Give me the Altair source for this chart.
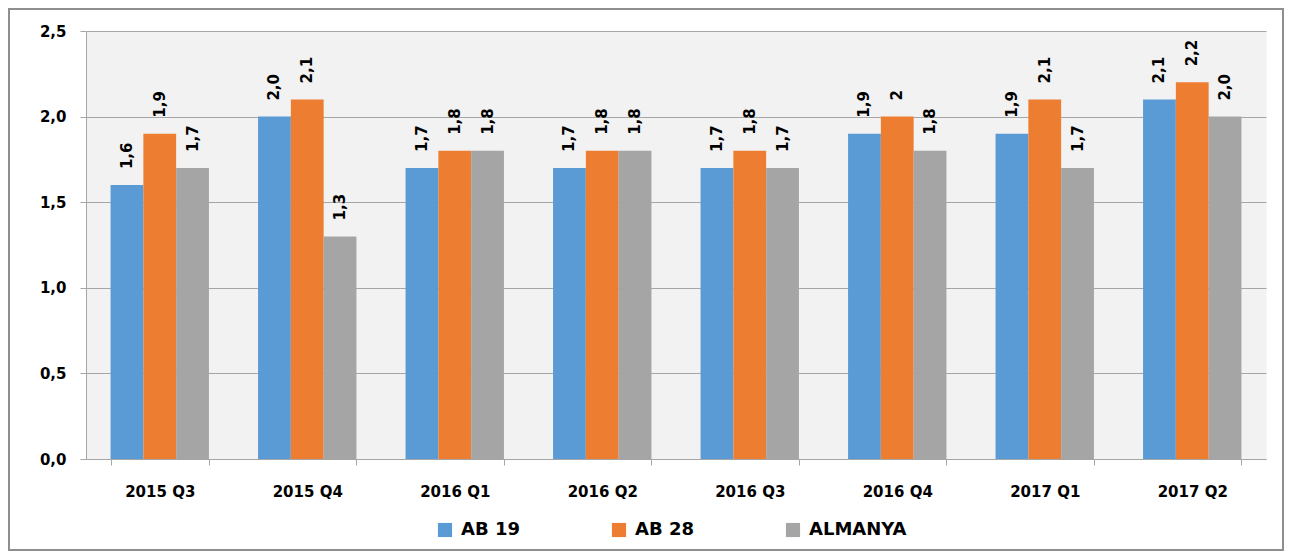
import altair as alt
import pandas as pd

quarters = ["2015 Q3", "2015 Q4", "2016 Q1", "2016 Q2", "2016 Q3", "2016 Q4", "2017 Q1", "2017 Q2"]
series = ["AB 19", "AB 28", "ALMANYA"]
ab19 = [1.6, 2.0, 1.7, 1.7, 1.7, 1.9, 1.9, 2.1]
ab28 = [1.9, 2.1, 1.8, 1.8, 1.8, 2.0, 2.1, 2.2]
almanya = [1.7, 1.3, 1.8, 1.8, 1.7, 1.8, 1.7, 2.0]
ab19_labels = ["1,6", "2,0", "1,7", "1,7", "1,7", "1,9", "1,9", "2,1"]
ab28_labels = ["1,9", "2,1", "1,8", "1,8", "1,8", "2", "2,1", "2,2"]
almanya_labels = ["1,7", "1,3", "1,8", "1,8", "1,7", "1,8", "1,7", "2,0"]
y_ticks = [0, 0.5, 1.0, 1.5, 2.0, 2.5]
colors = ["#5B9BD5", "#ED7D31", "#A5A5A5"]

rows = []
for s, vals, labs in zip(series, [ab19, ab28, almanya], [ab19_labels, ab28_labels, almanya_labels]):
    for q, v, l in zip(quarters, vals, labs):
        rows.append({"quarter": q, "series": s, "value": v, "label": l})
df = pd.DataFrame(rows)

FONT = "DejaVu Sans"
GRAY = "#A6A6A6"

x_enc = alt.X(
    "quarter:N",
    sort=quarters,
    scale=alt.Scale(paddingInner=0.333, paddingOuter=0.1665),
    axis=alt.Axis(
        title=None, labelAngle=0, tickBand="extent", tickSize=6,
        labelPadding=19, labelFont=FONT, labelFontSize=15, labelFontWeight="bold",
        labelColor="#000000", domainColor=GRAY, tickColor=GRAY, grid=False,
    ),
)
xoff_enc = alt.XOffset("series:N", sort=series, scale=alt.Scale(paddingInner=0, paddingOuter=0))
y_enc = alt.Y(
    "value:Q",
    scale=alt.Scale(domain=[0, 2.5], nice=False),
    axis=alt.Axis(
        title=None, values=y_ticks, tickSize=6, labelPadding=14,
        labelExpr="replace(format(datum.value, '.1f'), '.', ',')",
        labelFont=FONT, labelFontSize=15, labelFontWeight="bold", labelColor="#000000",
        domainColor=GRAY, tickColor=GRAY, gridColor=GRAY, gridWidth=1,
    ),
)

bars = alt.Chart(df).mark_bar().encode(
    x=x_enc,
    xOffset=xoff_enc,
    y=y_enc,
    color=alt.Color(
        "series:N",
        sort=series,
        scale=alt.Scale(domain=series, range=colors),
        legend=alt.Legend(
            title=None, orient="none", direction="horizontal",
            legendX=350, legendY=490, padding=0,
            symbolType="square", symbolSize=200, symbolStrokeWidth=0,
            labelFont=FONT, labelFontSize=18, labelFontWeight="bold", labelColor="#000000",
            labelOffset=7, columnPadding=90,
        ),
    ),
)

labels = alt.Chart(df).mark_text(
    angle=270, align="left", baseline="middle", dx=16,
    font=FONT, fontSize=15, fontWeight="bold", color="#000000",
).encode(
    x=alt.X("quarter:N", sort=quarters),
    xOffset=alt.XOffset("series:N", sort=series),
    y=alt.Y("value:Q"),
    text="label:N",
)

frame = alt.Chart(pd.DataFrame({"a": [0]})).mark_rect(
    fillOpacity=0, stroke="#8E8E8E", strokeWidth=2,
).encode(
    x=alt.value(-77), x2=alt.value(1197), y=alt.value(-22), y2=alt.value(519),
)

chart = alt.layer(frame, bars, labels).properties(
    width=1180, height=428, padding=0,
).configure_view(
    fill="#F2F2F2", stroke="transparent",
)

chart.save("out.html", embed_options={"renderer": "svg", "actions": False})
